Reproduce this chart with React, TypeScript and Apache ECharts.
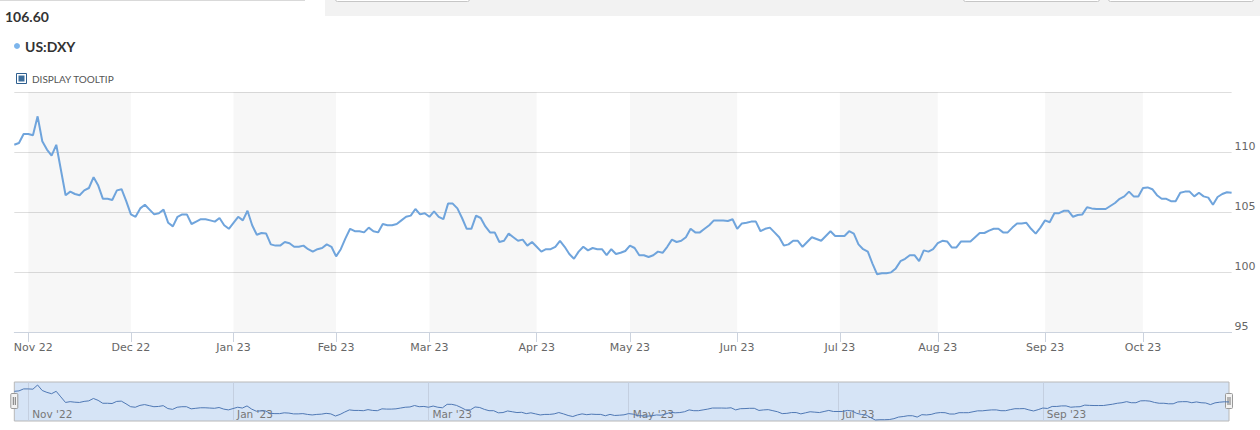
import React, { useEffect, useRef } from 'react';
import * as echarts from 'echarts';

// ---- Data: daily closes of US:DXY, one value per weekday session ----
const firstSessionDate = '2022-10-27';
const oct22 = [110.6, 110.75, 111.5];
const nov22 = [111.5, 111.4, 112.97, 110.9, 110.2, 109.7, 110.6, 108.5, 106.4, 106.7, 106.5, 106.4, 106.8, 107.0, 107.9, 107.2, 106.1, 106.1, 106.0, 106.8, 106.9, 105.9];
const dec22 = [104.8, 104.6, 105.3, 105.6, 105.2, 104.8, 104.9, 105.2, 104.1, 103.8, 104.6, 104.8, 104.8, 104.0, 104.2, 104.4, 104.4, 104.3, 104.2, 104.5, 103.9, 103.6];
const jan23 = [104.1, 104.6, 104.3, 105.1, 103.9, 103.1, 103.25, 103.2, 102.3, 102.2, 102.2, 102.5, 102.4, 102.1, 102.1, 102.2, 101.9, 101.7, 101.9, 102.0, 102.3, 102.1];
const feb23 = [101.3, 101.9, 102.8, 103.6, 103.4, 103.4, 103.3, 103.7, 103.4, 103.3, 104.0, 103.9, 103.9, 104.0, 104.3, 104.6, 104.7, 105.25, 104.8, 104.9];
const mar23 = [104.6, 105.05, 104.6, 104.4, 105.7, 105.7, 105.3, 104.5, 103.6, 103.6, 104.7, 104.5, 103.8, 103.3, 103.3, 102.5, 102.6, 103.2, 102.9, 102.6, 102.7, 102.2, 102.5];
const apr23 = [102.1, 101.7, 101.9, 101.9, 102.1, 102.6, 102.1, 101.5, 101.1, 101.7, 102.1, 101.8, 102.0, 101.9, 101.9, 101.4, 101.9, 101.5, 101.6, 101.75];
const may23 = [102.2, 102.0, 101.4, 101.4, 101.25, 101.4, 101.7, 101.6, 102.1, 102.7, 102.5, 102.6, 102.9, 103.6, 103.3, 103.3, 103.6, 103.9, 104.3, 104.3, 104.3, 104.25, 104.4];
const jun23 = [103.6, 104.05, 104.1, 104.2, 104.2, 103.4, 103.6, 103.7, 103.3, 102.9, 102.2, 102.3, 102.6, 102.6, 102.1, 102.5, 102.9, 102.75, 102.6, 103.0, 103.4, 103.0];
const jul23 = [103.0, 103.0, 103.4, 103.2, 102.3, 101.9, 101.7, 100.7, 99.8, 99.9, 99.9, 99.97, 100.3, 100.9, 101.1, 101.4, 101.4, 100.9, 101.8, 101.7, 101.9];
const aug23 = [102.4, 102.6, 102.55, 102.05, 102.05, 102.55, 102.55, 102.55, 102.9, 103.25, 103.25, 103.45, 103.6, 103.6, 103.3, 103.3, 103.7, 104.05, 104.05, 104.1, 103.6, 103.2, 103.7];
const sep23 = [104.3, 104.15, 104.9, 104.9, 105.1, 105.1, 104.6, 104.75, 104.8, 105.4, 105.3, 105.25, 105.25, 105.25, 105.5, 105.75, 106.1, 106.3, 106.7, 106.3, 106.3];
const oct23 = [107.0, 107.05, 106.9, 106.4, 106.1, 106.1, 105.9, 105.9, 106.6, 106.7, 106.7, 106.3, 106.6, 106.3, 106.2, 105.6, 106.25, 106.5, 106.65, 106.6];

const seriesName = 'US:DXY';
const lastValueText = '106.60';
const yMin = 95;
const yMax = 115;
const yStep = 5;
const monthNames = ['Jan', 'Feb', 'Mar', 'Apr', 'May', 'Jun', 'Jul', 'Aug', 'Sep', 'Oct', 'Nov', 'Dec'];

const closes: number[] = [oct22, nov22, dec22, jan23, feb23, mar23, apr23, may23, jun23, jul23, aug23, sep23, oct23].flat();

function sessionDates(start: string, count: number): string[] {
  const out: string[] = [];
  const d = new Date(start + 'T00:00:00Z');
  while (out.length < count) {
    const wd = d.getUTCDay();
    if (wd !== 0 && wd !== 6) out.push(d.toISOString().slice(0, 10));
    d.setUTCDate(d.getUTCDate() + 1);
  }
  return out;
}

const dates = sessionDates(firstSessionDate, closes.length);
const monthStartIdx: number[] = [];
dates.forEach((d, i) => {
  if (i > 0 && d.slice(0, 7) !== dates[i - 1].slice(0, 7)) monthStartIdx.push(i);
});
const monthStartSet = new Set(monthStartIdx);
const monthOf = (d: string) => +d.slice(5, 7) - 1;
const evenMonthStartSet = new Set(monthStartIdx.filter((i) => monthOf(dates[i]) % 2 === 0));
const firstLabelIdx = monthStartIdx[0];

const bandPairs: any[] = [];
monthStartIdx.forEach((idx, k) => {
  if (evenMonthStartSet.has(idx) && k + 1 < monthStartIdx.length) {
    bandPairs.push([{ xAxis: dates[idx] }, { xAxis: dates[monthStartIdx[k + 1]] }]);
  }
});

const AXIS_FONT = 'DejaVu Sans';
const lineColor = '#6fa4dc';
const legendColor = '#7cb5ec';

export default function App() {
  const ref = useRef<HTMLDivElement>(null);

  useEffect(() => {
    document.body.style.margin = '0';
    if (!ref.current) return;
    const chart = echarts.init(ref.current, undefined, { renderer: 'svg' });

    const handle = (cx: number) => ({
      type: 'group',
      children: [
        { type: 'rect', shape: { x: cx - 3.5, y: 393.5, width: 7, height: 15, r: 1 }, style: { fill: '#f2f2f2', stroke: '#999', lineWidth: 1 } },
        { type: 'line', shape: { x1: cx - 1, y1: 397, x2: cx - 1, y2: 405 }, style: { stroke: '#777', lineWidth: 1 } },
        { type: 'line', shape: { x1: cx + 1, y1: 397, x2: cx + 1, y2: 405 }, style: { stroke: '#777', lineWidth: 1 } },
      ],
    });

    const option: any = {
      animation: false,
      backgroundColor: '#ffffff',
      title: {
        text: lastValueText,
        left: 5,
        top: 9,
        padding: 0,
        textStyle: { fontFamily: 'Lato', fontSize: 14, fontWeight: 'bold', color: '#333' },
      },
      legend: {
        data: [{ name: seriesName, icon: 'circle' }],
        left: 14,
        top: 39,
        padding: 0,
        itemWidth: 6,
        itemHeight: 6,
        selectedMode: false,
        textStyle: { fontFamily: 'Lato', fontSize: 14, fontWeight: 'bold', color: '#333' },
      },
      grid: [
        { left: 14.3, right: 28.4, top: 92, height: 240 },
        {
          left: 14.3,
          right: 31,
          top: 382,
          height: 39,
          show: true,
          backgroundColor: '#d6e4f6',
          borderColor: '#b8b8b8',
          borderWidth: 1,
        },
      ],
      xAxis: [
        {
          type: 'category',
          gridIndex: 0,
          data: dates,
          boundaryGap: false,
          axisLine: { lineStyle: { color: '#ccd3de', width: 1 } },
          axisTick: { interval: (i: number) => monthStartSet.has(i), length: 10, lineStyle: { color: '#ccd3de' } },
          axisLabel: {
            interval: (i: number) => monthStartSet.has(i),
            margin: 10,
            fontFamily: AXIS_FONT,
            fontSize: 11,
            color: '#666',
            formatter: (v: string, i: number) => {
              const t = `${monthNames[monthOf(v)]} ${v.slice(2, 4)}`;
              return i === firstLabelIdx ? `{first|${t}}` : t;
            },
            rich: { first: { padding: [0, 0, 0, 10], fontFamily: AXIS_FONT, fontSize: 11, color: '#666' } },
          },
          splitLine: { show: false },
        },
        {
          type: 'category',
          gridIndex: 1,
          data: dates,
          boundaryGap: false,
          axisLine: { show: false },
          axisTick: { show: false },
          splitLine: { show: true, interval: (i: number) => evenMonthStartSet.has(i), lineStyle: { color: '#c4cfe0', width: 1 } },
          axisLabel: {
            inside: true,
            interval: (i: number) => evenMonthStartSet.has(i),
            align: 'left',
            margin: 2,
            padding: [0, 0, 0, 4],
            fontFamily: AXIS_FONT,
            fontSize: 10.5,
            color: '#777',
            formatter: (v: string) => `${monthNames[monthOf(v)]} '${v.slice(2, 4)}`,
          },
        },
      ],
      yAxis: [
        {
          type: 'value',
          gridIndex: 0,
          position: 'right',
          min: yMin,
          max: yMax,
          interval: yStep,
          axisLine: { show: false },
          axisTick: { show: false },
          splitLine: { lineStyle: { color: '#dedede', width: 1 } },
          axisLabel: {
            margin: 3,
            verticalAlign: 'bottom',
            fontFamily: AXIS_FONT,
            fontSize: 11,
            color: '#666',
            formatter: (v: number) => (v === yMax ? '' : String(v)),
          },
        },
        {
          type: 'value',
          gridIndex: 1,
          scale: true,
          min: (e: any) => e.min - (e.max - e.min) / 35,
          max: (e: any) => e.max + (3 * (e.max - e.min)) / 35,
          axisLine: { show: false },
          axisTick: { show: false },
          axisLabel: { show: false },
          splitLine: { show: false },
        },
      ],
      series: [
        {
          name: seriesName,
          type: 'line',
          xAxisIndex: 0,
          yAxisIndex: 0,
          data: closes,
          showSymbol: false,
          symbol: 'none',
          z: 3,
          lineStyle: { width: 2, color: lineColor },
          itemStyle: { color: legendColor },
          markArea: {
            silent: true,
            itemStyle: { color: 'rgba(0,0,0,0.03)' },
            data: bandPairs,
          },
        },
        {
          name: 'navigator',
          type: 'line',
          xAxisIndex: 1,
          yAxisIndex: 1,
          data: closes,
          showSymbol: false,
          symbol: 'none',
          silent: true,
          lineStyle: { width: 1, color: '#4f78b4' },
          itemStyle: { color: '#4f78b4' },
        },
      ],
      graphic: [
        { type: 'line', shape: { x1: 0, y1: 0.5, x2: 305, y2: 0.5 }, style: { stroke: '#d9d9d9', lineWidth: 1 } },
        { type: 'rect', shape: { x: 325, y: 0, width: 935, height: 16 }, style: { fill: '#f2f2f2' } },
        { type: 'rect', shape: { x: 335.5, y: -10, width: 134, height: 11.5, r: 2 }, style: { fill: '#fff', stroke: '#c6c6c6', lineWidth: 1 } },
        { type: 'rect', shape: { x: 963.5, y: -10, width: 136, height: 11.5, r: 2 }, style: { fill: '#fff', stroke: '#c6c6c6', lineWidth: 1 } },
        { type: 'rect', shape: { x: 1108.5, y: -10, width: 145, height: 11.5, r: 2 }, style: { fill: '#fff', stroke: '#c6c6c6', lineWidth: 1 } },
        { type: 'rect', shape: { x: 16.5, y: 73.5, width: 10, height: 10 }, style: { fill: '#fff', stroke: '#2f5f8f', lineWidth: 1 } },
        { type: 'rect', shape: { x: 18.5, y: 75.5, width: 6, height: 6 }, style: { fill: '#3d6e9c' } },
        {
          type: 'text',
          x: 32,
          y: 78.5,
          style: { text: 'DISPLAY TOOLTIP', fontFamily: 'Lato', fontSize: 10, fill: '#555', verticalAlign: 'middle' },
        },
        handle(14.3),
        handle(1229),
      ],
    };

    chart.setOption(option);
    return () => chart.dispose();
  }, []);

  return <div ref={ref} style={{ position: 'absolute', left: 0, top: 0, width: 1260, height: 430, background: '#fff' }} />;
}
